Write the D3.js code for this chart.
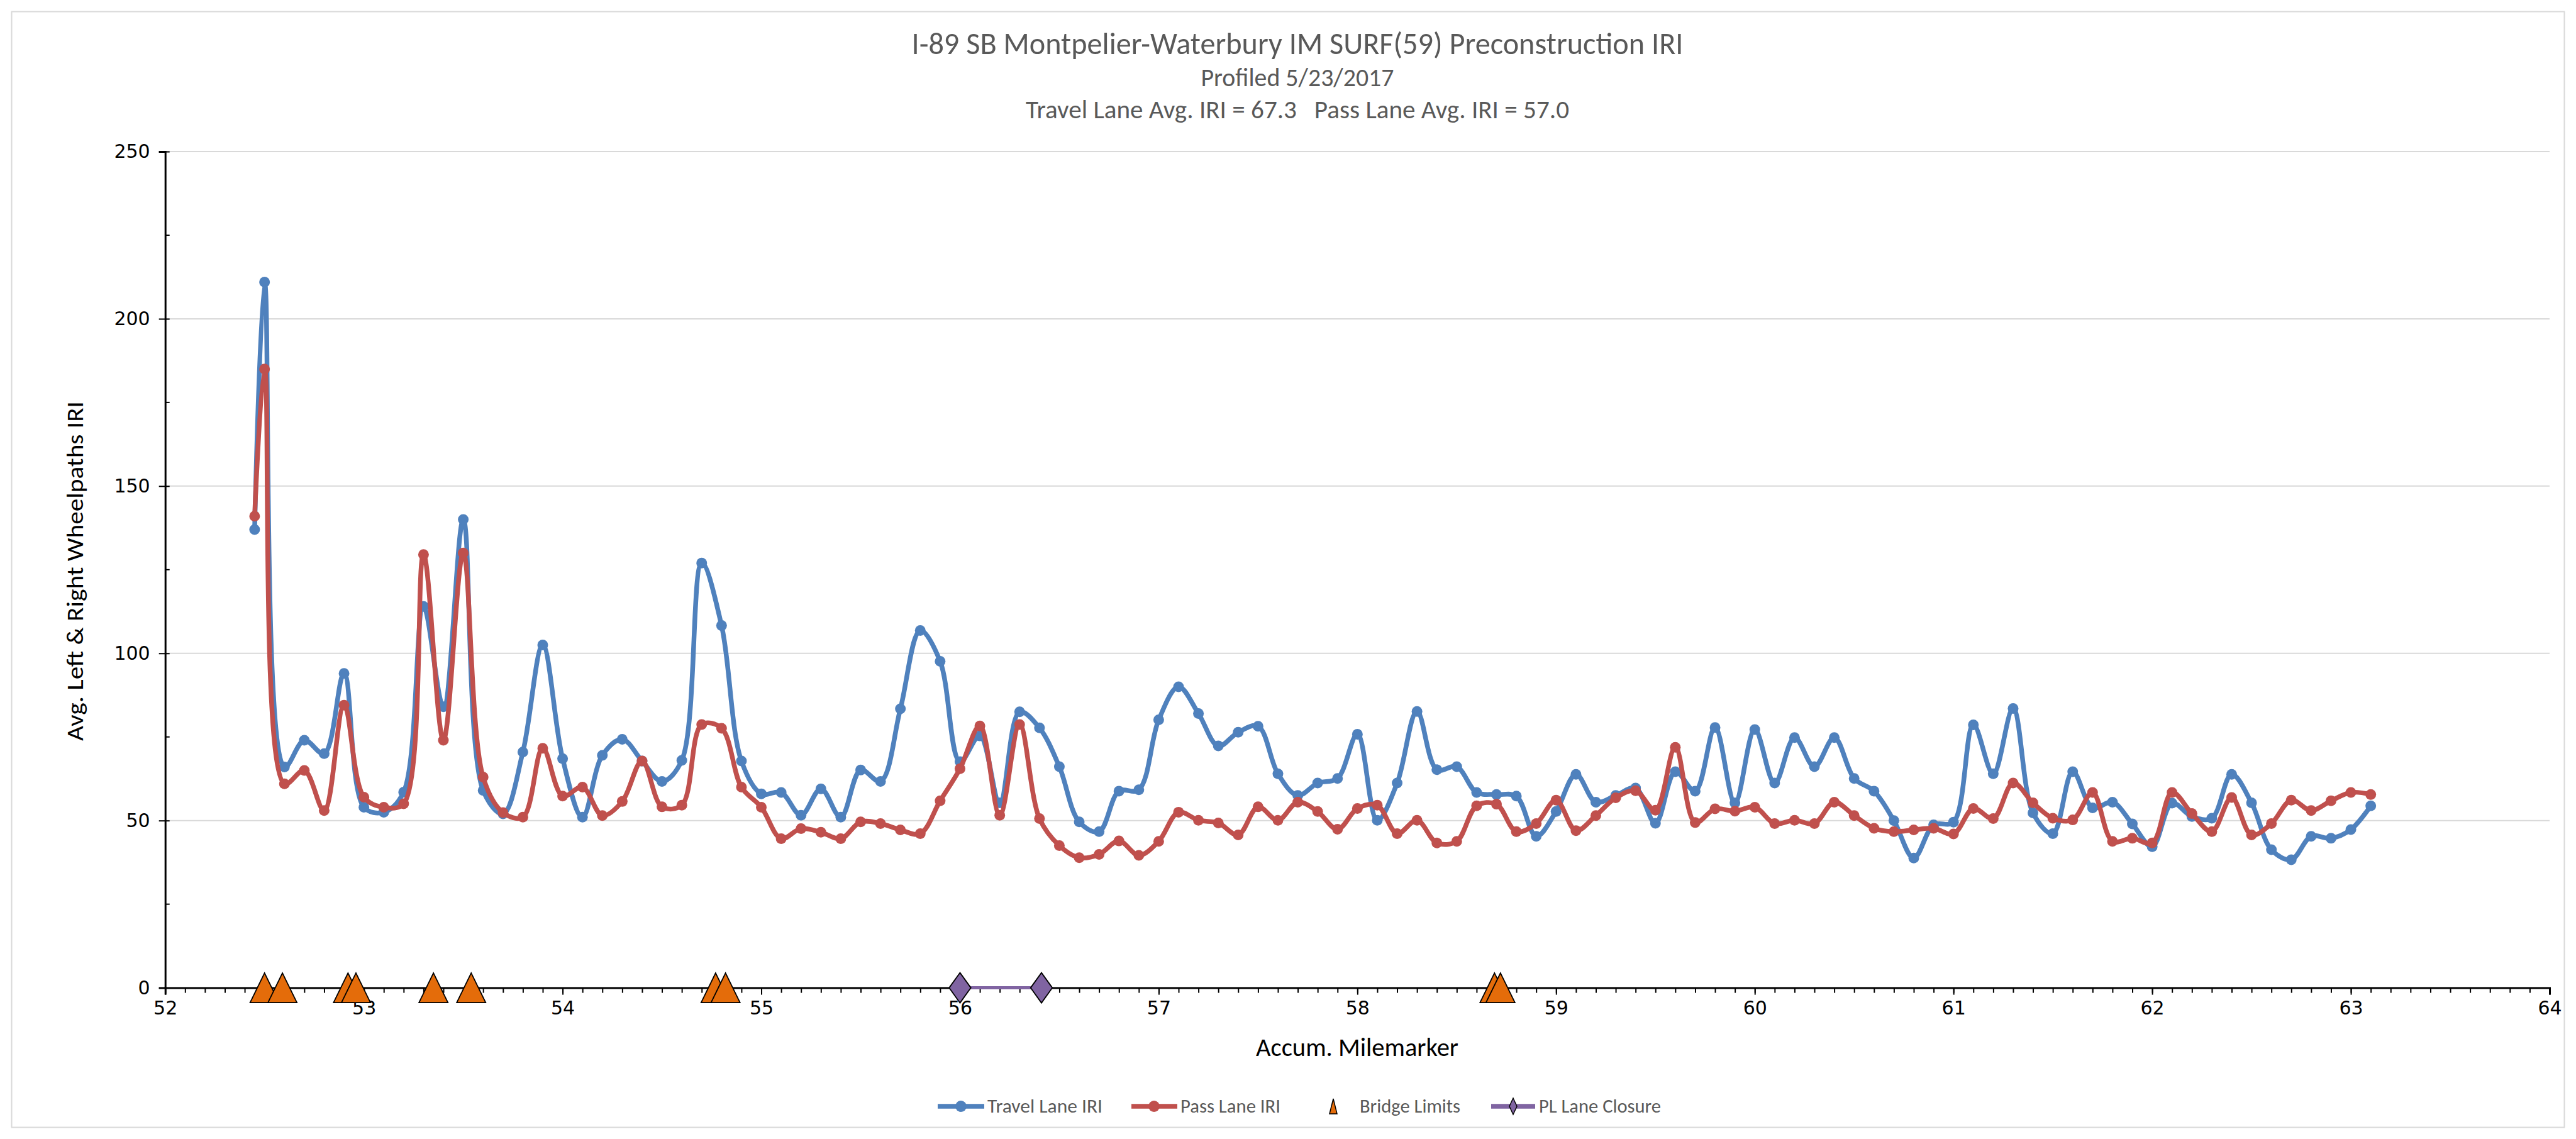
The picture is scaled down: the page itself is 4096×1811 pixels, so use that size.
<!DOCTYPE html>
<html><head><meta charset="utf-8">
<script src="https://cdn.jsdelivr.net/npm/d3@7"></script>
<style>
html,body{margin:0;padding:0;background:#fff;overflow:hidden;}
svg{display:block;}
text{font-family: Carlito, Calibri, 'Liberation Sans Narrow', 'DejaVu Sans Condensed', sans-serif;}
</style></head><body>
<svg id="chart" width="4096" height="1811"></svg>
<script>
// ---------- data ----------
const travelMiles = [52.45,52.5,52.6,52.7,52.8,52.9,53.0,53.1,53.2,53.3,53.4,53.5,53.6,53.7,53.8,53.9,54.0,54.1,54.2,54.3,54.4,54.5,54.6,54.7,54.8,54.9,55.0,55.1,55.2,55.3,55.4,55.5,55.6,55.7,55.8,55.9,56.0,56.1,56.2,56.3,56.4,56.5,56.6,56.7,56.8,56.9,57.0,57.1,57.2,57.3,57.4,57.5,57.6,57.7,57.8,57.9,58.0,58.1,58.2,58.3,58.4,58.5,58.6,58.7,58.8,58.9,59.0,59.1,59.2,59.3,59.4,59.5,59.6,59.7,59.8,59.9,60.0,60.1,60.2,60.3,60.4,60.5,60.6,60.7,60.8,60.9,61.0,61.1,61.2,61.3,61.4,61.5,61.6,61.7,61.8,61.9,62.0,62.1,62.2,62.3,62.4,62.5,62.6,62.7,62.8,62.9,63.0,63.1];
const travelIRI = [137,211,66,74,70,94,54,52.5,58.5,114,84,140,59,52,70.5,102.5,68.5,51,69.5,74.3,67.8,61.7,68,127,108.3,67.8,58,58.4,51.6,59.5,51,65.1,61.7,83.4,106.8,97.6,67.6,75.3,55.3,82.5,77.7,66.1,49.6,46.7,58.8,59.2,80.1,90,82,72.3,76.4,78.2,64,57.5,61.2,62.6,75.8,50.1,61.2,82.6,65.2,66.1,58.4,57.8,57.3,45.3,52.7,63.8,55.5,57.5,59.7,49.2,64.6,58.8,77.8,55.3,77.2,61.2,74.8,66.1,74.8,62.6,58.8,50,38.8,48.7,49.5,78.6,64,83.5,52.3,46.1,64.6,53.8,55.5,49,42.2,55.2,51.2,50.7,63.8,55.3,41.3,38.3,45.3,44.7,47.3,54.4];
const passMiles = [52.45,52.5,52.6,52.7,52.8,52.9,53.0,53.1,53.2,53.3,53.4,53.5,53.6,53.7,53.8,53.9,54.0,54.1,54.2,54.3,54.4,54.5,54.6,54.7,54.8,54.9,55.0,55.1,55.2,55.3,55.4,55.5,55.6,55.7,55.8,55.9,56.0,56.1,56.2,56.3,56.4,56.5,56.6,56.7,56.8,56.9,57.0,57.1,57.2,57.3,57.4,57.5,57.6,57.7,57.8,57.9,58.0,58.1,58.2,58.3,58.4,58.5,58.6,58.7,58.8,58.9,59.0,59.1,59.2,59.3,59.4,59.5,59.6,59.7,59.8,59.9,60.0,60.1,60.2,60.3,60.4,60.5,60.6,60.7,60.8,60.9,61.0,61.1,61.2,61.3,61.4,61.5,61.6,61.7,61.8,61.9,62.0,62.1,62.2,62.3,62.4,62.5,62.6,62.7,62.8,62.9,63.0,63.1];
const passIRI = [141,185,61,65,53,84.5,57,54,55,129.5,74,130,63,52.4,51,71.6,57.3,60,51.5,55.7,67.8,54.1,54.6,78.7,77.6,60,54,44.6,47.6,46.5,44.6,49.6,49.1,47.2,46.1,55.9,65.5,78.3,51.6,78.7,50.6,42.5,38.9,39.9,43.9,39.6,43.8,52.5,50.1,49.3,45.7,54.1,50.1,55.5,52.7,47.4,53.6,54.6,46.1,50.1,43.3,43.8,54.4,54.9,46.7,49.1,56.1,47,51.5,56.8,58.9,53.1,71.9,49.4,53.5,52.8,54,49.1,50.1,49.1,55.5,51.5,47.7,46.7,47.2,47.7,46,53.6,50.6,61.2,55.3,50.7,50.2,58.4,43.8,44.7,43.3,58.4,52.1,46.7,56.9,45.7,49.1,56.1,53,55.9,58.4,57.8];
const bridgeMiles = [52.50,52.59,52.92,52.96,53.35,53.54,54.77,54.82,58.69,58.72];
const bridgeIRI = [0,0,0,0,0,0,0,0,0,0];
const closureMiles = [56.0,56.41];
const closureIRI = [0,0];
const xTickValues = [52,53,54,55,56,57,58,59,60,61,62,63,64];
const yTickValues = [0,50,100,150,200,250];
const titleLines = ["I-89 SB Montpelier-Waterbury IM SURF(59) Preconstruction IRI","Profiled 5/23/2017","Travel Lane Avg. IRI = 67.3   Pass Lane Avg. IRI = 57.0"];
const seriesNames = ["Travel Lane IRI","Pass Lane IRI","Bridge Limits","PL Lane Closure"];

// ---------- drawing ----------
const C = {blue:"#4F81BD", red:"#C0504D", orange:"#E46C0A", purple:"#8064A2", grid:"#D9D9D9", title:"#595959"};
const svg = d3.select("#chart");
svg.append("rect").attr("x",0).attr("y",0).attr("width",4096).attr("height",1811).attr("fill","#fff");
svg.append("rect").attr("x",18.5).attr("y",18.5).attr("width",4096-37).attr("height",1811-37)
  .attr("fill","none").attr("stroke","#D9D9D9").attr("stroke-width",2);

const x = d3.scaleLinear().domain([52,64]).range([262.7,4054]);
const y = d3.scaleLinear().domain([0,250]).range([1570.6,241]);

// gridlines
svg.append("g").selectAll("line").data(yTickValues.filter(d=>d>0)).join("line")
  .attr("x1",x(52)).attr("x2",x(64)).attr("y1",d=>y(d)).attr("y2",d=>y(d))
  .attr("stroke",C.grid).attr("stroke-width",2);

// titles
const tSizes=[48.7,40,40], tY=[86,137,187.5], tW=[1227,307,864];
titleLines.forEach((t,i)=>{
  svg.append("text").attr("x",2063).attr("y",tY[i]).attr("text-anchor","middle")
    .attr("font-size",tSizes[i]).attr("fill",C.title).style("white-space","pre")
    .attr("textLength",tW[i]).attr("lengthAdjust","spacingAndGlyphs").text(t);
});

// axes
const xAxisMinor = d3.axisBottom(x).tickValues(d3.range(520,641).map(v=>v/10)).tickSize(8).tickFormat("");
const gxm = svg.append("g").attr("transform",`translate(0,${y(0)})`).call(xAxisMinor);
gxm.selectAll(".tick line").attr("stroke","#000").attr("stroke-width",2);
gxm.select(".domain").remove();
const xAxis = d3.axisBottom(x).tickValues(xTickValues).tickSize(11).tickPadding(10).tickFormat(d3.format("d"));
const gx = svg.append("g").attr("transform",`translate(0,${y(0)})`).call(xAxis);
gx.select(".domain").attr("stroke","#000").attr("stroke-width",3);
gx.selectAll(".tick line").attr("stroke","#000").attr("stroke-width",2);
gx.selectAll(".tick text").attr("font-size",30).attr("fill","#000")
  .style("font-family","'DejaVu Sans', Verdana, sans-serif");

const yAxis = d3.axisLeft(y).tickValues(yTickValues).tickSize(10).tickPadding(14);
const gy = svg.append("g").attr("transform",`translate(${x(52)},0)`).call(yAxis);
gy.select(".domain").attr("stroke","#000").attr("stroke-width",3);
gy.selectAll(".tick line").attr("stroke","#000").attr("stroke-width",2).attr("x2",-10).attr("x1",7);
gy.selectAll(".tick text").attr("font-size",30).attr("fill","#000")
  .style("font-family","'DejaVu Sans', Verdana, sans-serif");
const yMinor = [25,75,125,175,225];
svg.append("g").selectAll("line").data(yMinor).join("line")
  .attr("x1",x(52)).attr("x2",x(52)+7).attr("y1",d=>y(d)).attr("y2",d=>y(d))
  .attr("stroke","#000").attr("stroke-width",2);

// axis titles
svg.append("text").attr("x",2158).attr("y",1679).attr("text-anchor","middle").attr("font-size",40.6)
  .attr("fill","#000").attr("textLength",322).attr("lengthAdjust","spacingAndGlyphs").text("Accum. Milemarker");
svg.append("text").attr("transform","translate(132,908) rotate(-90)").attr("text-anchor","middle")
  .attr("font-size",37).attr("fill","#000").attr("textLength",540).attr("lengthAdjust","spacingAndGlyphs")
  .text("Avg. Left & Right Wheelpaths IRI");

// series
const curve = d3.curveCatmullRom.alpha(0.5);
function drawSeries(mi, vals, color){
  const pts = mi.map((m,i)=>[m,vals[i]]);
  const line = d3.line().x(d=>x(d[0])).y(d=>y(d[1])).curve(curve);
  const g = svg.append("g");
  g.append("path").attr("d",line(pts)).attr("fill","none").attr("stroke",color)
    .attr("stroke-width",7.5).attr("stroke-linejoin","round").attr("stroke-linecap","round");
  g.selectAll("circle").data(pts).join("circle").attr("cx",d=>x(d[0])).attr("cy",d=>y(d[1]))
    .attr("r",8.5).attr("fill",color);
}
drawSeries(travelMiles, travelIRI, C.blue);
drawSeries(passMiles, passIRI, C.red);

// closure
const closurePts = closureMiles.map((m,i)=>[m,closureIRI[i]]);
svg.append("path").attr("d",d3.line().x(d=>x(d[0])).y(d=>y(d[1]))(closurePts))
  .attr("stroke",C.purple).attr("stroke-width",5).attr("fill","none");
const diamond = s => `M0,${-s}L${s*0.72},0L0,${s}L${-s*0.72},0Z`;
svg.append("g").selectAll("path").data(closurePts).join("path")
  .attr("transform",d=>`translate(${x(d[0])},${y(d[1])})`).attr("d",diamond(24))
  .attr("fill",C.purple).attr("stroke","#000").attr("stroke-width",1.8);

// bridges
const tri = (w,h) => `M0,${-h/2}L${w/2},${h/2}L${-w/2},${h/2}Z`;
svg.append("g").selectAll("path").data(bridgeMiles.map((m,i)=>[m,bridgeIRI[i]])).join("path")
  .attr("transform",d=>`translate(${x(d[0])},${y(d[1])})`).attr("d",tri(46,47))
  .attr("fill",C.orange).attr("stroke","#000").attr("stroke-width",1.8).attr("stroke-linejoin","miter");

// legend
const ly = 1759;
const lg = svg.append("g").attr("font-size",31).attr("fill",C.title);
function legLine(x1,x2,color){
  lg.append("line").attr("x1",x1).attr("x2",x2).attr("y1",ly).attr("y2",ly).attr("stroke",color).attr("stroke-width",7.5);
}
function legText(xp,w,t){
  lg.append("text").attr("x",xp).attr("y",ly+10).attr("textLength",w).attr("lengthAdjust","spacingAndGlyphs").text(t);
}
legLine(1491,1565,C.blue); lg.append("circle").attr("cx",1528).attr("cy",ly).attr("r",9).attr("fill",C.blue);
legText(1570,183,seriesNames[0]);
legLine(1799,1872,C.red); lg.append("circle").attr("cx",1835).attr("cy",ly).attr("r",9).attr("fill",C.red);
legText(1877,159,seriesNames[1]);
lg.append("path").attr("transform",`translate(2120,${ly})`).attr("d",tri(12,24)).attr("fill",C.orange).attr("stroke","#000").attr("stroke-width",1.5);
legText(2162,160,seriesNames[2]);
legLine(2371,2441,C.purple);
lg.append("path").attr("transform",`translate(2406,${ly})`).attr("d",`M0,-13L6,0L0,13L-6,0Z`).attr("fill",C.purple).attr("stroke","#000").attr("stroke-width",1.5);
legText(2447,194,seriesNames[3]);
</script>
</body></html>
